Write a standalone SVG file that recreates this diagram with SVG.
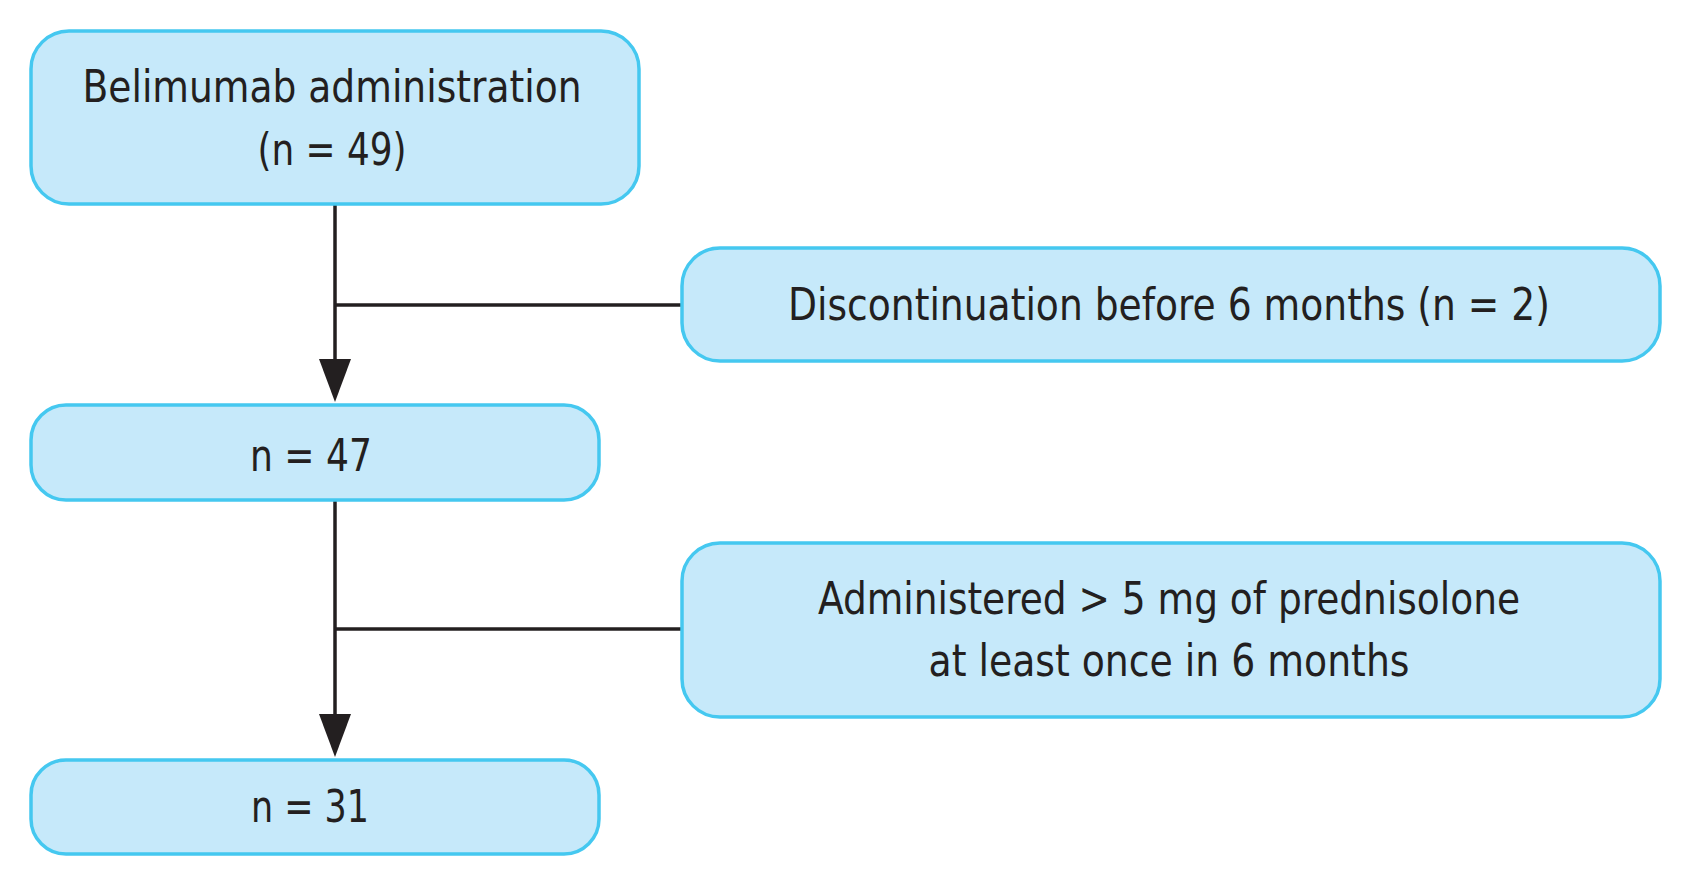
<svg xmlns="http://www.w3.org/2000/svg" width="1694" height="886" viewBox="0 0 1694 886">
<style>
.box{fill:#c6e9fa;stroke:#45c8f0;stroke-width:3.5}
.t{font-family:"Liberation Sans Narrow","DejaVu Sans Condensed","Liberation Sans",sans-serif;font-size:45px;fill:#231f20;text-anchor:middle}
.ln{stroke:#231f20;stroke-width:3.5;fill:none}
.head{fill:#231f20}
</style>
<rect width="1694" height="886" fill="#ffffff"/>
<g id="connectors">
<line class="ln" x1="335" y1="204" x2="335" y2="359"/>
<path class="head" d="M319,359 L351,359 L335,402 Z"/>
<line class="ln" x1="335" y1="305" x2="682" y2="305"/>
<line class="ln" x1="335" y1="500" x2="335" y2="714"/>
<path class="head" d="M319,714 L351,714 L335,757 Z"/>
<line class="ln" x1="335" y1="629" x2="682" y2="629"/>
</g>
<g id="node-belimumab">
<rect class="box" x="31" y="31" width="608" height="173" rx="38"/>
<text class="t" x="332" y="102" textLength="499" lengthAdjust="spacingAndGlyphs">Belimumab administration</text>
<text class="t" x="332" y="165" textLength="149" lengthAdjust="spacingAndGlyphs">(n = 49)</text>
</g>
<g id="node-discontinuation">
<rect class="box" x="682" y="248" width="978" height="113" rx="38"/>
<text class="t" x="1169" y="320" textLength="762" lengthAdjust="spacingAndGlyphs">Discontinuation before 6 months (n = 2)</text>
</g>
<g id="node-n47">
<rect class="box" x="31" y="405" width="568" height="95" rx="35"/>
<text class="t" x="311" y="471" textLength="122" lengthAdjust="spacingAndGlyphs">n = 47</text>
</g>
<g id="node-prednisolone">
<rect class="box" x="682" y="543" width="978" height="174" rx="38"/>
<text class="t" x="1169" y="614" textLength="702" lengthAdjust="spacingAndGlyphs">Administered &gt; 5 mg of prednisolone</text>
<text class="t" x="1169" y="676" textLength="481" lengthAdjust="spacingAndGlyphs">at least once in 6 months</text>
</g>
<g id="node-n31">
<rect class="box" x="31" y="760" width="568" height="94" rx="35"/>
<text class="t" x="310" y="822" textLength="118" lengthAdjust="spacingAndGlyphs">n = 31</text>
</g>
</svg>
